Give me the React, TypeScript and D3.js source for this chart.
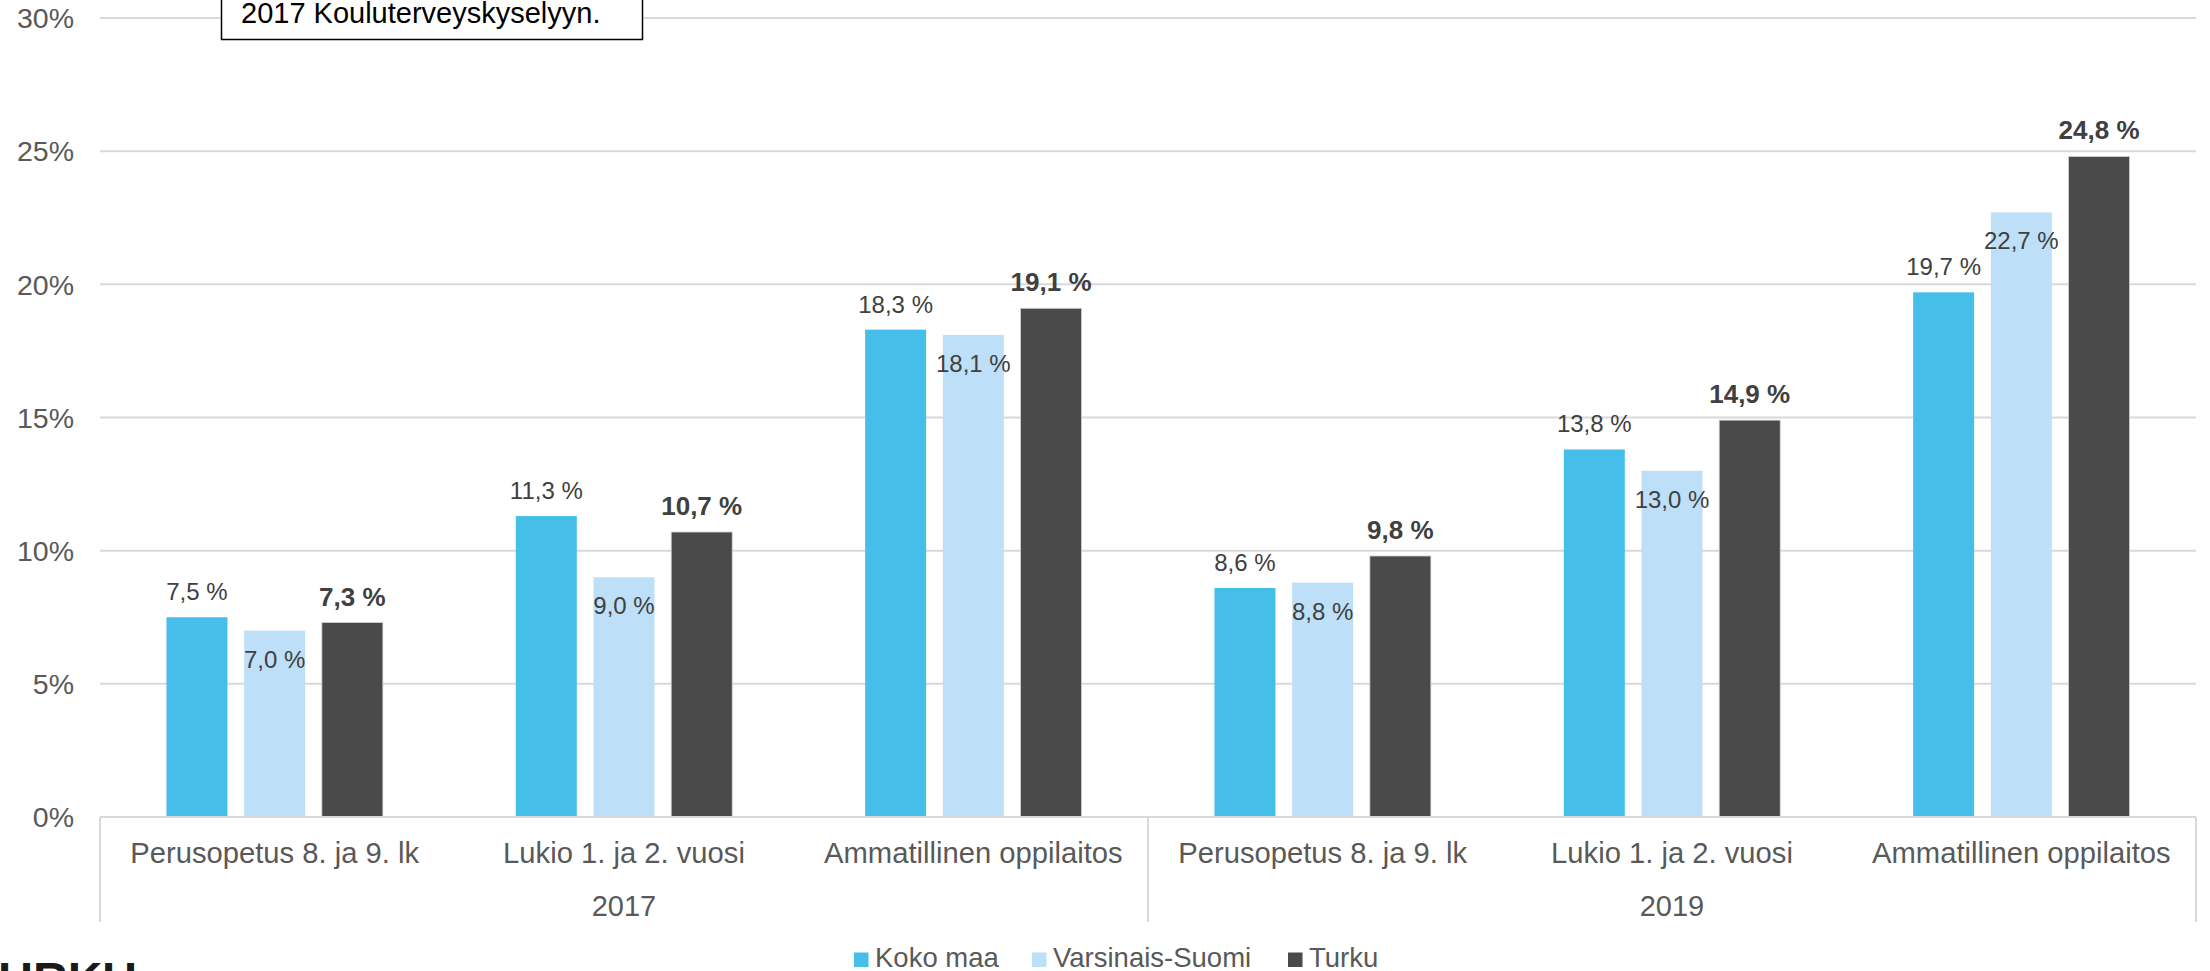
import React from 'react';
import * as d3 from 'd3';

const years = ['2017', '2019'];
const schools = ['Perusopetus 8. ja 9. lk', 'Lukio 1. ja 2. vuosi', 'Ammatillinen oppilaitos'];
const seriesNames = ['Koko maa', 'Varsinais-Suomi', 'Turku'];
const seriesColors = ['#45BFEA', '#BDDFF7', '#4A4A4A'];

// values in %, order: 2017 (3 schools), 2019 (3 schools)
const kokoMaa = [7.5, 11.3, 18.3, 8.6, 13.8, 19.7];
const varsinaisSuomi = [7.0, 9.0, 18.1, 8.8, 13.0, 22.7];
const turku = [7.3, 10.7, 19.1, 9.8, 14.9, 24.8];
const yTicks = [0, 5, 10, 15, 20, 25, 30];

const W = 2210;
const H = 971;
const FONT = '"Liberation Sans", Arial, Helvetica, sans-serif';

export default function App() {
  const left = 100;
  const right = 2196;
  const top = 18;
  const bottom = 817;

  const categories = years.flatMap((yr) => schools.map((s) => `${yr}|${s}`));
  const series = [kokoMaa, varsinaisSuomi, turku];

  const x0 = d3.scaleBand<string>().domain(categories).range([left, right]);
  const bw = x0.bandwidth();
  const groupW = 216.4;
  const x1 = d3
    .scaleBand<number>()
    .domain([0, 1, 2])
    .range([(bw - groupW) / 2, (bw + groupW) / 2])
    .paddingInner(0.215);
  const y = d3.scaleLinear().domain([0, 30]).range([bottom, top]);

  const yearX = d3.scaleBand<string>().domain(years).range([left, right]);
  const fmt = (v: number) => v.toFixed(1).replace('.', ',') + ' %';

  const legendX = [854, 1032, 1288];

  return (
    <>
      <style>{`body{margin:0;overflow:hidden;background:#fff}`}</style>
      <svg width={W} height={H} style={{ display: 'block', fontFamily: FONT }}>
        <rect width={W} height={H} fill="#fff" />

        {/* grid */}
        {yTicks.map((t) => (
          <g key={t}>
            {t > 0 && (
              <line x1={left} x2={right} y1={y(t)} y2={y(t)} stroke="#D9D9D9" strokeWidth={2} />
            )}
            <text
              x={74}
              y={y(t)}
              dy="0.36em"
              textAnchor="end"
              fontSize={28.5}
              fill="#595959"
            >
              {t}%
            </text>
          </g>
        ))}

        {/* note box (top cut off) */}
        <rect x={221.5} y={-60} width={421} height={99.5} fill="#fff" stroke="#000" strokeWidth={1.5} />
        <text x={241} y={23} fontSize={29} fill="#000">
          2017 Kouluterveyskyselyyn.
        </text>

        {/* bars */}
        {categories.map((c, ci) => (
          <g key={c} transform={`translate(${x0(c)},0)`}>
            {series.map((vals, si) => (
              <rect
                key={si}
                x={x1(si)}
                y={y(vals[ci])}
                width={x1.bandwidth()}
                height={bottom - y(vals[ci])}
                fill={seriesColors[si]}
                stroke={si === 2 ? '#D0D0D0' : 'none'}
                strokeWidth={si === 2 ? 0.8 : 0}
              />
            ))}
            {series.map((vals, si) => (
              <text
                key={'l' + si}
                x={(x1(si) as number) + x1.bandwidth() / 2}
                y={si === 1 ? y(vals[ci]) + 37 : y(vals[ci]) - 17}
                textAnchor="middle"
                fontSize={si === 2 ? 26 : 24}
                fontWeight={si === 2 ? 'bold' : 'normal'}
                fill="#404040"
              >
                {fmt(vals[ci])}
              </text>
            ))}
          </g>
        ))}

        {/* axis */}
        <line x1={left} x2={right} y1={bottom} y2={bottom} stroke="#D9D9D9" strokeWidth={2} />
        {[left, (left + right) / 2, right].map((xv, i) => (
          <line key={i} x1={xv} x2={xv} y1={bottom} y2={922} stroke="#D9D9D9" strokeWidth={2} />
        ))}
        {categories.map((c) => (
          <text
            key={'c' + c}
            x={(x0(c) as number) + bw / 2}
            y={863}
            textAnchor="middle"
            fontSize={29.2}
            fill="#595959"
          >
            {c.split('|')[1]}
          </text>
        ))}
        {years.map((yr) => (
          <text
            key={yr}
            x={(yearX(yr) as number) + yearX.bandwidth() / 2}
            y={916}
            textAnchor="middle"
            fontSize={29}
            fill="#595959"
          >
            {yr}
          </text>
        ))}

        {/* legend */}
        {seriesNames.map((n, i) => (
          <g key={n} transform={`translate(${legendX[i]},0)`}>
            <rect x={0} y={952.5} width={14.5} height={14.5} fill={seriesColors[i]} />
            <text x={21} y={967} fontSize={27.5} fill="#595959">
              {n}
            </text>
          </g>
        ))}

        {/* logo, mostly cut off */}
        <text x={-31} y={996} fontSize={48} fontWeight="bold" fill="#1A1A1A">
          TURKU
        </text>
      </svg>
    </>
  );
}
